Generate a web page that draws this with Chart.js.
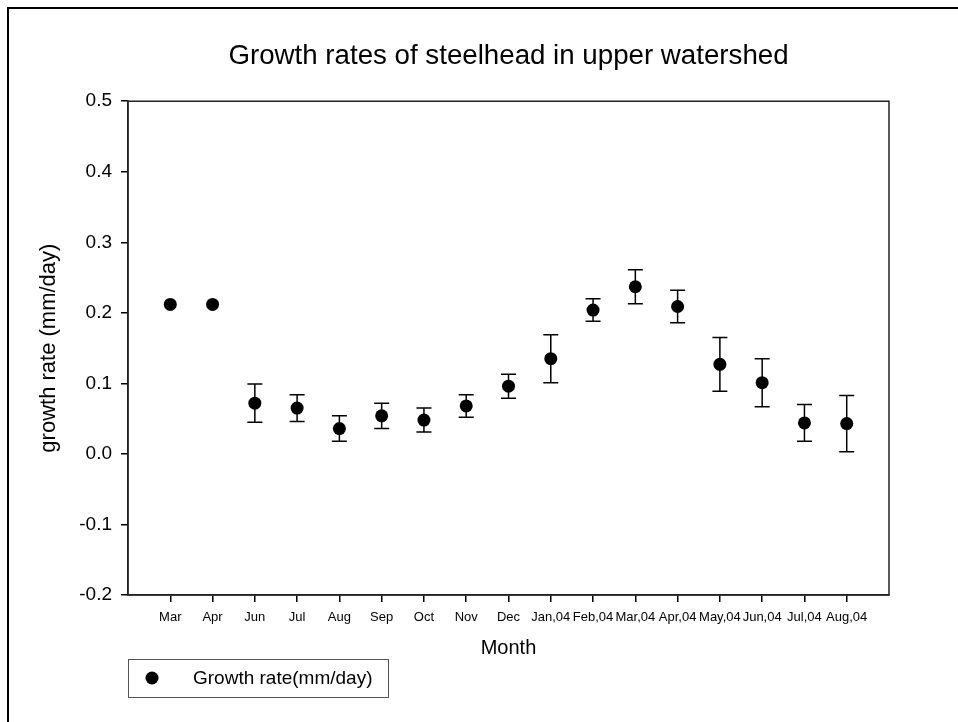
<!DOCTYPE html>
<html>
<head>
<meta charset="utf-8">
<title>Growth rates of steelhead in upper watershed</title>
<script src="https://cdn.jsdelivr.net/npm/chart.js@4/dist/chart.umd.min.js"></script>
<style>
  html, body { margin: 0; padding: 0; background: #fff; overflow: hidden; }
  #wrap { position: relative; width: 958px; height: 722px; overflow: hidden; }
  #chart { position: absolute; left: 0; top: 0; }
  /* page frame: only its top and left edges fall inside the view */
  #frame { position: absolute; left: 7px; top: 7px; width: 1000px; height: 800px;
           border: 2px solid #000; pointer-events: none; }
</style>
</head>
<body>
<div id="wrap">
  <canvas id="chart" width="958" height="722"></canvas>
  <div id="frame"></div>
</div>
<script>
// Monthly sampling periods
const months = ['Mar', 'Apr', 'Jun', 'Jul', 'Aug', 'Sep', 'Oct', 'Nov', 'Dec',
                'Jan,04', 'Feb,04', 'Mar,04', 'Apr,04', 'May,04', 'Jun,04', 'Jul,04', 'Aug,04'];

// Mean growth rate (mm/day) per period
const growthRate = [0.212, 0.212, 0.072, 0.065, 0.036, 0.054, 0.048, 0.068, 0.096,
                    0.135, 0.204, 0.237, 0.209, 0.127, 0.101, 0.044, 0.043];

// Standard error of the mean (no error available for the first two periods)
const stdError = [null, null, 0.027, 0.019, 0.018, 0.018, 0.017, 0.016, 0.017,
                  0.034, 0.016, 0.024, 0.023, 0.038, 0.034, 0.026, 0.040];

// Y axis range and tick step
const yMin = -0.2;
const yMax = 0.5;
const yStep = 0.1;

const FONT = "'Liberation Sans', Arial, Helvetica, sans-serif";
Chart.defaults.font.family = FONT;
Chart.defaults.color = '#000';

// Closes the plot box on the top and right sides
const plotFrame = {
  id: 'plotFrame',
  beforeDatasetsDraw(chart) {
    const { ctx, chartArea: a } = chart;
    ctx.save();
    ctx.strokeStyle = '#222';
    ctx.lineWidth = 1.5;
    ctx.strokeRect(a.left, a.top, a.right - a.left, a.bottom - a.top);
    ctx.restore();
  }
};

// Vertical error bars with caps, drawn beneath the markers
const errorBars = {
  id: 'errorBars',
  beforeDatasetsDraw(chart) {
    const { ctx, scales: { x, y } } = chart;
    ctx.save();
    ctx.strokeStyle = '#000';
    ctx.lineWidth = 1.5;
    growthRate.forEach((v, i) => {
      const e = stdError[i];
      if (e == null) return;
      const px = x.getPixelForValue(i + 1);
      const yt = y.getPixelForValue(v + e);
      const yb = y.getPixelForValue(v - e);
      const cap = 7.5;
      ctx.beginPath();
      ctx.moveTo(px, yt); ctx.lineTo(px, yb);
      ctx.moveTo(px - cap, yt); ctx.lineTo(px + cap, yt);
      ctx.moveTo(px - cap, yb); ctx.lineTo(px + cap, yb);
      ctx.stroke();
    });
    ctx.restore();
  }
};

// Boxed legend below the axis title
const boxedLegend = {
  id: 'boxedLegend',
  afterDraw(chart) {
    const { ctx, chartArea: a } = chart;
    const ds = chart.data.datasets[0];
    const left = a.left, top = a.bottom + 64, w = 260, h = 38;
    ctx.save();
    ctx.strokeStyle = '#555';
    ctx.lineWidth = 1;
    ctx.strokeRect(left + 0.5, top + 0.5, w, h);
    const cy = top + h / 2;
    ctx.fillStyle = ds.pointBackgroundColor;
    ctx.beginPath();
    ctx.arc(left + 24, cy, ds.pointRadius, 0, Math.PI * 2);
    ctx.fill();
    ctx.fillStyle = '#000';
    ctx.font = '19px ' + FONT;
    ctx.textBaseline = 'middle';
    ctx.fillText(ds.label, left + 65, cy + 1);
    ctx.restore();
  }
};

new Chart(document.getElementById('chart'), {
  type: 'scatter',
  data: {
    datasets: [{
      label: 'Growth rate(mm/day)',
      data: growthRate.map((v, i) => ({ x: i + 1, y: v })),
      pointRadius: 6.5,
      pointHoverRadius: 6.5,
      pointBackgroundColor: '#000',
      pointBorderColor: '#000',
      pointBorderWidth: 0,
      showLine: false
    }]
  },
  options: {
    responsive: false,
    animation: false,
    devicePixelRatio: 1,
    layout: { padding: { left: 0, right: 69, top: 0, bottom: 57 } },
    plugins: {
      legend: { display: false },
      tooltip: { enabled: false },
      title: {
        display: true,
        fullSize: false,
        text: 'Growth rates of steelhead in upper watershed',
        color: '#000',
        font: { size: 27.7, weight: 'normal' },
        padding: { top: 40, bottom: 28 }
      }
    },
    scales: {
      x: {
        type: 'linear',
        min: 0,
        max: months.length + 1,
        afterBuildTicks(scale) {
          scale.ticks = months.map((m, i) => ({ value: i + 1 }));
        },
        afterFit(scale) { scale.height = 70; },
        ticks: {
          autoSkip: false,
          maxRotation: 0,
          padding: 8,
          font: { size: 13 },
          color: '#000',
          callback: (v) => months[v - 1]
        },
        grid: { drawOnChartArea: false, tickLength: 7, color: '#000', lineWidth: 1.5 },
        border: { display: true, color: '#222', width: 1.5 },
        title: {
          display: true,
          text: 'Month',
          color: '#000',
          font: { size: 20 },
          padding: { top: 4, bottom: 5 }
        }
      },
      y: {
        min: yMin,
        max: yMax,
        afterFit(scale) { scale.width = 128; },
        ticks: {
          stepSize: yStep,
          padding: 9,
          font: { size: 19 },
          color: '#000',
          callback: (v) => (Math.abs(v) < 1e-9 ? 0 : v).toFixed(1)
        },
        grid: { drawOnChartArea: false, tickLength: 7, color: '#000', lineWidth: 1.5 },
        border: { display: true, color: '#222', width: 1.5 },
        title: {
          display: true,
          text: 'growth rate (mm/day)',
          color: '#000',
          font: { size: 22 },
          padding: { top: 36, bottom: 0 }
        }
      }
    }
  },
  plugins: [plotFrame, errorBars, boxedLegend]
});
</script>
</body>
</html>
